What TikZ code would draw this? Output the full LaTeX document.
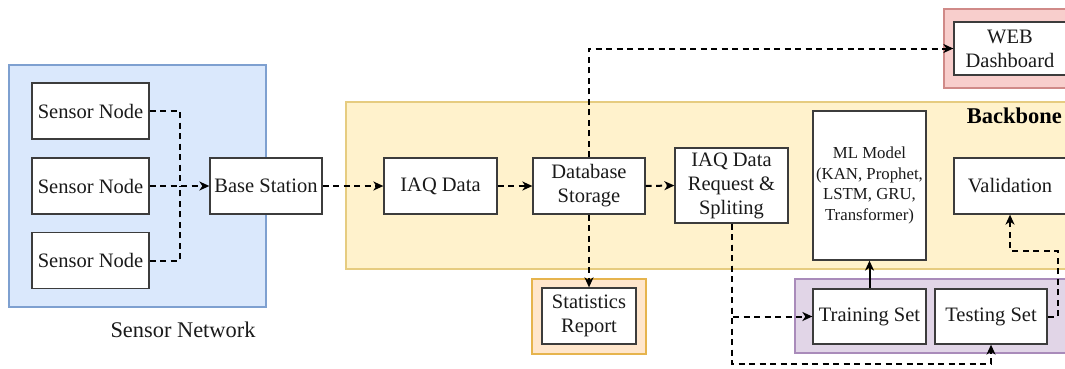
\documentclass[tikz,border=0pt]{standalone}
\usepackage{fontspec}
\setmainfont{Liberation Serif}
\usetikzlibrary{arrows.meta}
\definecolor{blueFill}{HTML}{DAE8FC}\definecolor{blueLine}{HTML}{7EA0D0}
\definecolor{yelFill}{HTML}{FFF2CC}\definecolor{yelLine}{HTML}{E6CC80}
\definecolor{redFill}{HTML}{F8CECC}\definecolor{redLine}{HTML}{D08A88}
\definecolor{purFill}{HTML}{E1D5E7}\definecolor{purLine}{HTML}{A98BBA}
\definecolor{orgFill}{HTML}{FFE6CC}\definecolor{orgLine}{HTML}{E6B44D}
\definecolor{ink}{HTML}{1A1A1A}
\tikzset{
  box/.style={draw=ink!85, line width=1.3pt, fill=white, text=ink, align=center,
    inner sep=0pt, font=\fontsize{20.5}{24}\selectfont},
  group/.style={line width=1.3pt},
  flow/.style={draw=black, line width=2pt, dash pattern=on 6pt off 4.5pt,
    -{Stealth[length=10pt,width=9pt,inset=3pt]}},
  link/.style={draw=black, line width=2pt, dash pattern=on 6pt off 4.5pt},
  solidflow/.style={draw=black, line width=2pt, -{Stealth[length=10pt,width=9pt,inset=3pt]}},
}
\begin{document}
\begin{tikzpicture}[x=1pt,y=-1pt]
\useasboundingbox (0,0) rectangle (1065,368);
\clip (0,0) rectangle (1065,368);

% coloured group backgrounds
\draw[group, fill=blueFill, draw=blueLine] (9,65) rectangle (266,307);
\draw[group, fill=yelFill, draw=yelLine] (346,102) rectangle (1080,269);
\draw[group, fill=redFill, draw=redLine] (944,9) rectangle (1080,88);
\draw[group, fill=purFill, draw=purLine] (795,279) rectangle (1080,353);
\draw[group, fill=orgFill, draw=orgLine] (532,279) rectangle (646,354);

\node[font=\fontsize{22.4}{26}\selectfont, text=ink] (netlbl) at (183,330) {Sensor Network};
\node[font=\fontsize{22.5}{26}\selectfont\bfseries, text=black, anchor=east, inner sep=0pt] (bblbl) at (1062,116) {Backbone};

% sensor network
\node[box, minimum width=117pt, minimum height=56pt] (s1) at (90.5,111) {Sensor Node};
\node[box, minimum width=117pt, minimum height=56pt] (s2) at (90.5,186) {Sensor Node};
\node[box, minimum width=117pt, minimum height=56pt] (s3) at (90.5,260.5) {Sensor Node};
\node[box, minimum width=112pt, minimum height=56pt] (bs) at (266,186) {Base Station};
\coordinate (j) at (180,186);

% backbone
\node[box, minimum width=113pt, minimum height=56pt] (iaq) at (440.5,186) {IAQ Data};
\node[box, minimum width=112pt, minimum height=56pt] (db) at (589,186) {Database\\Storage};
\node[box, minimum width=113pt, minimum height=75pt] (req) at (731.5,185.5) {IAQ Data\\Request \&\\Spliting};
\node[box, minimum width=113pt, minimum height=149pt, font=\fontsize{16.8}{20.5}\selectfont] (ml) at (869.5,185.5) {ML Model\\(KAN, Prophet,\\LSTM, GRU,\\Transformer)};
\node[box, minimum width=112pt, minimum height=56pt] (val) at (1010,186) {Validation};

% outputs
\node[box, minimum width=112pt, minimum height=53pt] (web) at (1010,48.5) {WEB\\Dashboard};
\node[box, minimum width=94pt, minimum height=56pt] (stat) at (589,316) {Statistics\\Report};

% data sets
\node[box, minimum width=113pt, minimum height=55pt] (train) at (869.5,316.5) {Training Set};
\node[box, minimum width=112pt, minimum height=55pt] (test) at (991,316.5) {Testing Set};

% connectors
\draw[link] (s1.east) -| (j);
\draw[link] (s3.east) -| (j);
\draw[flow] (s2.east) -- (bs.west);
\draw[flow] (bs.east) -- (iaq.west);
\draw[flow] (iaq.east) -- (db.west);
\draw[flow] (db.east) -- (req.west);
\draw[flow] (db.north) |- (web.west);
\draw[flow] (db.south) -- (stat.north);
\draw[flow] (req.south) |- (train.west);
\draw[flow] (req.south) -- ++(0,140) -| (test.south);
\draw[solidflow] (train.north) -- (ml.south);
\draw[flow] (test.east) -- ++(10,0) -- ++(0,-66) -| (val.south);
\end{tikzpicture}
\end{document}
